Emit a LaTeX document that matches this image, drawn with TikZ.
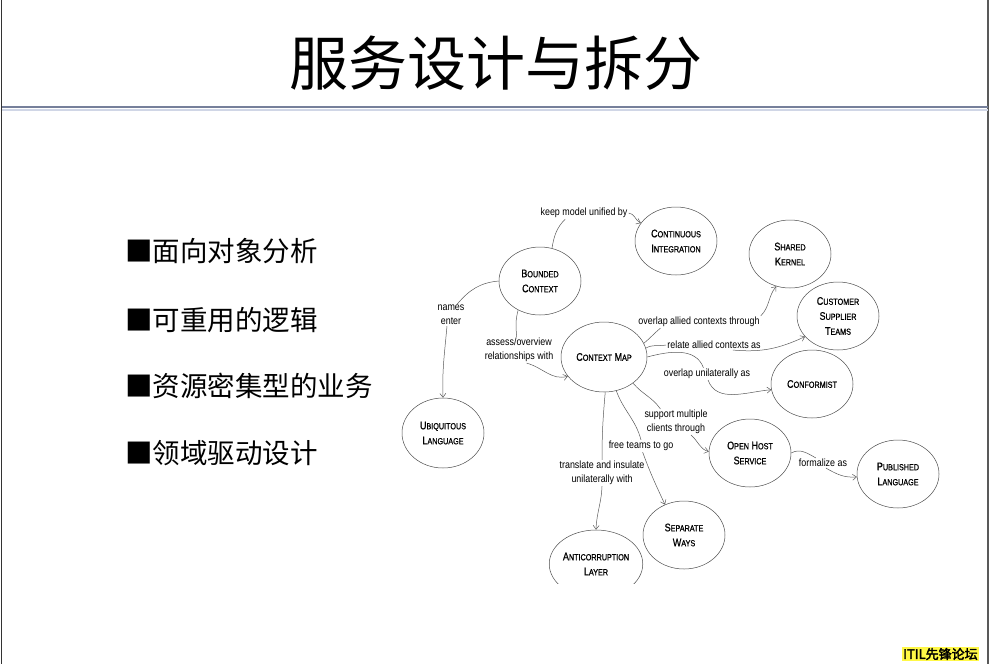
\documentclass[tikz,border=0pt]{standalone}
\usepackage{fontspec}
\setmainfont{Liberation Sans}
\newfontfamily\cjk{Noto Sans CJK SC}
\newfontfamily\cjkbf[FakeBold=2.5]{Noto Sans CJK SC}
\newfontfamily\dgm[FakeStretch=0.85]{Liberation Sans}
\newfontfamily\dgmcap[FakeStretch=0.82, FakeBold=0.8]{Liberation Sans}
\usepackage{tikz}
\usetikzlibrary{shapes.geometric, arrows.meta, positioning}
\definecolor{rulegray}{RGB}{118,128,155}
\definecolor{rulelight}{RGB}{208,214,230}
\definecolor{wmyellow}{RGB}{255,248,70}
% small caps for the bubble texts
\newcommand{\scw}[2]{{\fontsize{11}{15}\selectfont #1}{\fontsize{8.8}{15}\selectfont #2}}

\begin{document}
\begin{tikzpicture}[
    x=1pt, y=-1pt,
    bubble/.style={draw=black!70, ellipse, minimum width=82pt, minimum height=68pt, inner sep=0pt, align=center, font=\dgmcap\fontsize{11}{15}\selectfont, text=black, line width=0.5pt},
    rel/.style={font=\dgm\fontsize{10.5}{14}\selectfont, align=center, inner sep=1pt, text=black},
    link/.style={draw=black!65, line width=0.5pt},
    arrow/.style={link, -{Straight Barb[length=4pt, width=6pt]}},
    bullet/.style={anchor=west, font=\cjk\fontsize{27.5}{30}\selectfont, inner sep=0pt}
  ]
    \useasboundingbox (0,0) rectangle (992,664);

    % Slide frame
    \draw[black!80, line width=1.5pt] (1.5,0) -- (1.5,664);
    \draw[black!65, line width=1.5pt] (988,0) -- (988,664);
    \draw[rulelight, line width=2pt] (2,109.5) -- (988,109.5);
    \draw[rulegray, line width=2pt] (2,106.5) -- (988,106.5);

    % Title
    \node[font=\cjk\fontsize{59}{62}\selectfont, inner sep=0pt] (title) at (496,63) {服务设计与拆分};

    % Bullet list
    \node[bullet] (b1) at (125,251) {■面向对象分析};
    \node[bullet] (b2) at (125,320) {■可重用的逻辑};
    \node[bullet] (b3) at (125,386) {■资源密集型的业务};
    \node[bullet] (b4) at (125,453) {■领域驱动设计};

    \begin{scope}
    \clip (380,190) rectangle (990,583);

    % Concept bubbles
    \node[bubble] (bc) at (540,281) {\scw{B}{OUNDED}\\\scw{C}{ONTEXT}};
    \node[bubble] (ci) at (676,241) {\scw{C}{ONTINUOUS}\\\scw{I}{NTEGRATION}};
    \node[bubble] (sk) at (790,254) {\scw{S}{HARED}\\\scw{K}{ERNEL}};
    \node[bubble] (cst) at (838,316) {\scw{C}{USTOMER}\\\scw{S}{UPPLIER}\\\scw{T}{EAMS}};
    \node[bubble] (cf) at (812,384) {\scw{C}{ONFORMIST}};
    \node[bubble, minimum width=86pt, minimum height=70pt] (cm) at (604,357) {\scw{C}{ONTEXT} \scw{M}{AP}};
    \node[bubble, minimum height=70pt] (ul) at (443,433) {\scw{U}{BIQUITOUS}\\\scw{L}{ANGUAGE}};
    \node[bubble] (ohs) at (750,453) {\scw{O}{PEN} \scw{H}{OST}\\\scw{S}{ERVICE}};
    \node[bubble] (pl) at (898,474) {\scw{P}{UBLISHED}\\\scw{L}{ANGUAGE}};
    \node[bubble] (sw) at (684,535) {\scw{S}{EPARATE}\\\scw{W}{AYS}};
    \node[bubble, minimum width=85pt] (acl) at (596,564) {\scw{A}{NTICORRUPTION}\\\scw{L}{AYER}};

    % Relation labels
    \node[rel] (l_ci) at (584,213) {keep model unified by};
    \node[rel] (l_ul) at (451,315) {names\\enter};
    \node[rel] (l_cm) at (519,350) {assess/overview\\relationships with};
    \node[rel] (l_sk) at (699,322) {overlap allied contexts through};
    \node[rel] (l_cst) at (714,345) {relate allied contexts as};
    \node[rel] (l_cf) at (707,374) {overlap unilaterally as};
    \node[rel] (l_ohs) at (676,422) {support multiple\\clients through};
    \node[rel] (l_sw) at (641,446) {free teams to go};
    \node[rel] (l_acl) at (602,473) {translate and insulate\\unilaterally with};
    \node[rel] (l_pl) at (823,463) {formalize as};

    % Connectors
    \draw[link] (bc.70) to[out=80,in=225] (l_ci.198);
    \draw[arrow] (l_ci.east) to[out=-5,in=155] (ci.153);
    \draw[link] (bc.west) to[out=185,in=50] (l_ul.60);
    \draw[arrow] (l_ul.250) to[out=265,in=92] (ul.north);
    \draw[link] (bc.233) to[out=255,in=95] (l_cm.100);
    \draw[arrow] (l_cm.-60) to[out=-15,in=195] (cm.208);
    \draw[link] (cm.19) to[out=40,in=220] (l_sk.189);
    \draw[arrow] (l_sk.north east) to[out=45,in=230] (sk.247);
    \draw[link] (cm.12) to[out=30,in=190] (l_cst.west);
    \draw[arrow] (l_cst.-15) to[out=-5,in=205] (cst.212);
    \draw[link] (cm.east) to[out=15,in=110] (l_cf.120);
    \draw[arrow] (l_cf.-80) to[out=-70,in=185] (cf.188);
    \draw[link] (cm.-42) to[out=-50,in=125] (l_ohs.140);
    \draw[arrow] (l_ohs.-41) to[out=-40,in=165] (ohs.178);
    \draw[link] (cm.-70) to[out=-70,in=105] (l_sw.north);
    \draw[arrow] (l_sw.-75) to[out=-70,in=115] (sw.122);
    \draw[link] (cm.-88) to[out=-95,in=90] (l_acl.north);
    \draw[arrow] (l_acl.south) to[out=-92,in=88] (acl.north);
    \draw[link] (ohs.east) to[out=30,in=150] (l_pl.145);
    \draw[arrow] (l_pl.-60) to[out=-30,in=185] (pl.184);
    \end{scope}

    % Watermark
    \node[anchor=west, fill=wmyellow, inner sep=1pt, font=\cjkbf\fontsize{13}{13}\selectfont] (wm) at (902,654) {ITIL先锋论坛};
  \end{tikzpicture}
\end{document}
